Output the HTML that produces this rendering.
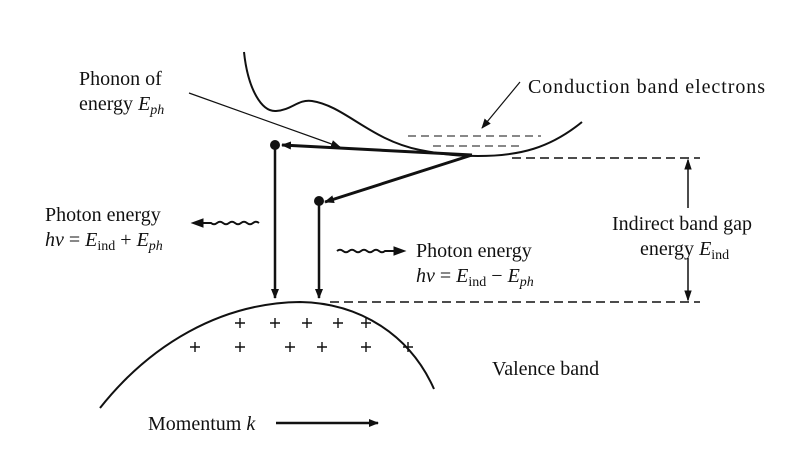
<!DOCTYPE html>
<html><head><meta charset="utf-8"><style>body{margin:0;background:#fff}svg{display:block}text{font-family:"Liberation Serif",serif;font-size:20px;fill:#111}.i{font-style:italic}.s{font-size:14px}</style></head><body>
<svg width="800" height="469" viewBox="0 0 800 469">
<defs><marker id="a" markerWidth="10" markerHeight="8" refX="9" refY="4" orient="auto" markerUnits="userSpaceOnUse"><path d="M0,0L10,4L0,8z" fill="#111"/></marker></defs>
<g fill="none" stroke="#111">
<path d="M244,52 C248,90 262,112 276,111 C292,110 298,99 312,101 C345,106 370,140 420,150 C445,155 460,156 478,156 C520,156 550,148 582,122" stroke-width="2"/>
<path d="M100,408 C150,345 220,303 300,302 C360,303 410,335 434,389" stroke-width="2"/>
<path d="M408,136H541M433,146H523" stroke-dasharray="8,5" stroke-width="1"/>
<path d="M512,158H700M330,302H700" stroke-dasharray="9,5" stroke-width="1.5"/>
<path d="M688,160V208M688,258V300" stroke-width="1.5"/>
<path d="M688,160l-3,9h6z M688,300l-3,-9h6z" fill="#111"/>
<path d="M189,93L340,147" stroke-width="1.2" marker-end="url(#a)"/>
<path d="M520,82L482,128" stroke-width="1.2" marker-end="url(#a)"/>
<path d="M472,155L282,145" stroke-width="3" marker-end="url(#a)"/>
<path d="M472,155L325,202" stroke-width="3" marker-end="url(#a)"/>
<path d="M275,146V298" stroke-width="2.5" marker-end="url(#a)"/>
<path d="M319,202V298" stroke-width="2.5" marker-end="url(#a)"/>
<path d="M259,223 q-3,-2.5 -6,0 q-3,2.5 -6,0 q-3,-2.5 -6,0 q-3,2.5 -6,0 q-3,-2.5 -6,0 q-3,2.5 -6,0 q-3,-2.5 -6,0 q-3,2.5 -6,0 L202,223" stroke-width="2"/>
<path d="M192,223l11,-4v8z" fill="#111"/>
<path d="M337,251 q3,-2.5 6,0 q3,2.5 6,0 q3,-2.5 6,0 q3,2.5 6,0 q3,-2.5 6,0 q3,2.5 6,0 q3,-2.5 6,0 q3,2.5 6,0 L395,251" stroke-width="2"/>
<path d="M405,251l-11,-4v8z" fill="#111"/>
<path d="M276,423H378" stroke-width="2.5" marker-end="url(#a)"/>
</g>
<circle cx="275" cy="145" r="5" fill="#111"/><circle cx="319" cy="201" r="5" fill="#111"/>
<g stroke="#111" stroke-width="1.4">
<path d="M240,318v10M235,323h10M275,318v10M270,323h10M307,318v10M302,323h10M338,318v10M333,323h10M366,318v10M361,323h10M195,342v10M190,347h10M240,342v10M235,347h10M290,342v10M285,347h10M322,342v10M317,347h10M366,342v10M361,347h10M408,342v10M403,347h10"/>
</g>
<text x="79" y="85">Phonon of</text>
<text x="79" y="110">energy <tspan class="i">E</tspan><tspan class="i s" dy="4">ph</tspan></text>
<text x="528" y="93" textLength="237">Conduction band electrons</text>
<text x="45" y="221">Photon energy</text>
<text x="45" y="246"><tspan class="i">hν</tspan> = <tspan class="i">E</tspan><tspan class="s" dy="4">ind</tspan><tspan dy="-4"> + </tspan><tspan class="i">E</tspan><tspan class="i s" dy="4">ph</tspan></text>
<text x="416" y="257">Photon energy</text>
<text x="416" y="282"><tspan class="i">hν</tspan> = <tspan class="i">E</tspan><tspan class="s" dy="4">ind</tspan><tspan dy="-4"> − </tspan><tspan class="i">E</tspan><tspan class="i s" dy="4">ph</tspan></text>
<text x="612" y="230">Indirect band gap</text>
<text x="640" y="255">energy <tspan class="i">E</tspan><tspan class="s" dy="4">ind</tspan></text>
<text x="492" y="375">Valence band</text>
<text x="148" y="430">Momentum <tspan class="i">k</tspan></text>
</svg></body></html>
